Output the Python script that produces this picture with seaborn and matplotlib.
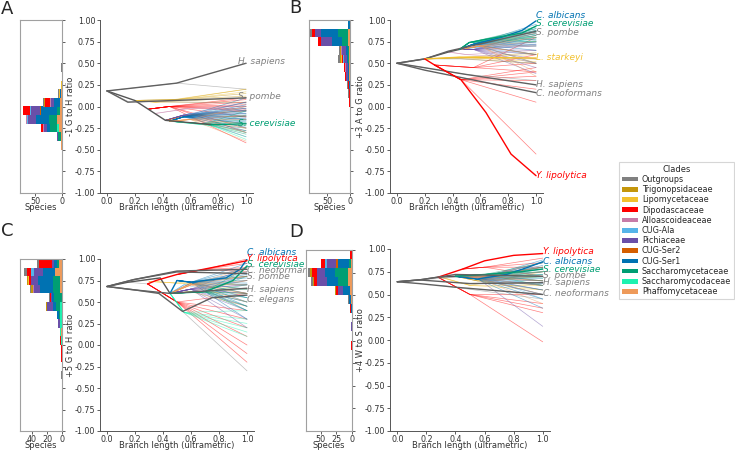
import numpy as np
import pandas as pd
import seaborn as sns
import matplotlib.pyplot as plt
from matplotlib.patches import Patch

clades = ["Outgroups", "Trigonopsidaceae", "Lipomycetaceae", "Dipodascaceae",
          "Alloascoideaceae", "CUG-Ala", "Pichiaceae", "CUG-Ser2", "CUG-Ser1",
          "Saccharomycetaceae", "Saccharomycodaceae", "Phaffomycetaceae"]
clade_colors = ["#808080", "#C4960C", "#F2C12E", "#FF0000", "#C77CA8", "#56B4E9",
                "#6A4FA8", "#D55E00", "#0072B2", "#009E73", "#1DF2B0", "#EE9A5A"]

# ---------------- panel A : -1 G to H ----------------
A_ylabel = "-1 G to H ratio"
A_hist_low = [0.4, 0.2, 0.1, 0.0, -0.1, -0.2, -0.3, -0.4, -0.5]
A_hist_counts = [
    [1, 0, 0, 0, 0, 0, 0, 0, 0, 0, 0, 0],
    [0, 1, 1, 0, 0, 0, 0, 0, 0, 0, 0, 0],
    [2, 1, 1, 1, 0, 0, 0, 0, 2, 0, 0, 1],
    [2, 1, 1, 8, 2, 1, 5, 0, 11, 1, 0, 3],
    [0, 1, 0, 12, 1, 1, 18, 1, 29, 6, 0, 4],
    [0, 0, 0, 0, 1, 1, 15, 0, 25, 15, 0, 9],
    [0, 0, 0, 4, 1, 0, 6, 0, 6, 12, 5, 5],
    [0, 0, 0, 0, 0, 0, 2, 0, 0, 5, 1, 1],
    [0, 0, 0, 0, 0, 0, 0, 0, 0, 0, 1, 1],
]
A_hist_max = 78
A_hist_ticks = [50, 0]
A_gray = [([0.0, 0.5, 1.0], [0.18, 0.27, 0.20]),
          ([0.0, 0.15, 1.0], [0.18, 0.06, 0.04])]
A_backbone = ([0.0, 0.2, 0.42, 0.55, 0.75], [0.18, 0.07, -0.16, -0.18, -0.21])
A_groups = [
    ("Trigonopsidaceae", 0.2, 0.07, 0.5, 0.08, [0.2, 0.15, 0.12]),
    ("Lipomycetaceae", 0.2, 0.07, 0.35, 0.05, [0.2, 0.17, 0.05, 0.1]),
    ("Dipodascaceae", 0.3, -0.03, 0.45, 0.0, [0.1, 0.05, 0.0, -0.03, -0.05, 0.02, -0.12, -0.25, -0.42, -0.3, 0.08]),
    ("Alloascoideaceae", 0.35, -0.08, 0.6, -0.02, [0.0, -0.05]),
    ("CUG-Ala", 0.42, -0.16, 0.6, -0.08, [-0.05, -0.1, -0.15]),
    ("Pichiaceae", 0.42, -0.16, 0.55, -0.1, [0.05, -0.02, -0.05, -0.08, -0.12, -0.15, -0.2, -0.28, -0.35]),
    ("CUG-Ser2", 0.42, -0.16, 0.6, -0.1, [-0.05, -0.12]),
    ("CUG-Ser1", 0.45, -0.17, 0.55, -0.12, [0.1, 0.05, 0.02, 0.0, -0.02, -0.04, -0.06, -0.08, -0.1, -0.12, -0.14, -0.16, -0.18, -0.2, -0.24, -0.3]),
    ("Saccharomycetaceae", 0.45, -0.17, 0.7, -0.2, [-0.05, -0.1, -0.15, -0.18, -0.22, -0.25, -0.28, -0.32]),
    ("Saccharomycodaceae", 0.45, -0.17, 0.75, -0.22, [-0.3, -0.35, -0.38]),
    ("Phaffomycetaceae", 0.45, -0.17, 0.6, -0.15, [0.0, -0.1, -0.15, -0.2, -0.25, -0.3, -0.4]),
]
A_species = [
    ("H. sapiens", "Outgroups", [0.0, 0.5, 1.0], [0.18, 0.27, 0.5], 0.52),
    ("S. pombe", "Outgroups", [0.0, 0.15, 1.0], [0.18, 0.05, 0.1], 0.11),
    ("S. cerevisiae", "Saccharomycetaceae", [0.75, 1.0], [-0.21, -0.2], -0.2),
]
A_label_x = 0.94

# ---------------- panel B : +3 A to G ----------------
B_ylabel = "+3 A to G ratio"
B_hist_low = [0.9, 0.8, 0.7, 0.6, 0.5, 0.4, 0.3, 0.2, 0.1, 0.0, -0.6, -0.9]
B_hist_counts = [
    [0, 0, 0, 0, 0, 0, 0, 0, 3, 1, 0, 0],
    [3, 0, 0, 6, 1, 0, 13, 1, 36, 22, 0, 4],
    [0, 0, 0, 7, 0, 0, 22, 0, 22, 14, 0, 4],
    [2, 1, 0, 1, 1, 0, 9, 0, 5, 1, 0, 3],
    [5, 2, 2, 3, 0, 1, 7, 0, 3, 1, 0, 3],
    [0, 0, 0, 3, 2, 0, 4, 0, 3, 0, 0, 2],
    [0, 0, 0, 3, 0, 0, 3, 0, 2, 1, 0, 2],
    [1, 0, 0, 3, 0, 0, 0, 0, 1, 0, 0, 1],
    [1, 0, 0, 2, 0, 0, 0, 0, 0, 0, 0, 1],
    [0, 0, 0, 2, 0, 0, 0, 1, 0, 0, 0, 0],
    [0, 0, 0, 1, 0, 0, 0, 0, 0, 0, 0, 0],
    [0, 0, 0, 1, 0, 0, 0, 0, 0, 0, 0, 0],
]
B_hist_max = 89
B_hist_ticks = [50, 0]
B_gray = [([0.0, 0.5, 1.0], [0.5, 0.37, 0.30]),
          ([0.2, 0.45, 1.0], [0.55, 0.55, 0.5])]
B_backbone = ([0.0, 0.2, 0.37, 0.45], [0.5, 0.55, 0.63, 0.66])
B_groups = [
    ("Trigonopsidaceae", 0.2, 0.55, 0.4, 0.56, [0.62, 0.55, 0.5]),
    ("Lipomycetaceae", 0.2, 0.55, 0.45, 0.57, [0.6, 0.52]),
    ("Dipodascaceae", 0.27, 0.48, 0.46, 0.31, [0.45, 0.4, 0.3, 0.2, 0.05, -0.55, 0.35]),
    ("Dipodascaceae", 0.27, 0.48, 0.55, 0.45, [0.8, 0.6, 0.5, 0.4]),
    ("Alloascoideaceae", 0.37, 0.63, 0.5, 0.6, [0.65, 0.55]),
    ("CUG-Ala", 0.45, 0.66, 0.55, 0.68, [0.75, 0.7, 0.6]),
    ("Pichiaceae", 0.45, 0.66, 0.55, 0.66, [0.85, 0.8, 0.75, 0.72, 0.7, 0.65, 0.6, 0.55, 0.5, 0.45, 0.38]),
    ("CUG-Ser2", 0.45, 0.66, 0.6, 0.7, [0.82, 0.6]),
    ("CUG-Ser1", 0.45, 0.66, 0.55, 0.72, [0.95, 0.9, 0.88, 0.86, 0.84, 0.82, 0.8, 0.78, 0.76, 0.74, 0.72, 0.7, 0.65, 0.6, 0.5]),
    ("Saccharomycetaceae", 0.45, 0.66, 0.52, 0.74, [0.92, 0.9, 0.88, 0.86, 0.84, 0.82, 0.8, 0.78, 0.75]),
    ("Saccharomycodaceae", 0.52, 0.74, 0.7, 0.78, [0.8, 0.75]),
    ("Phaffomycetaceae", 0.45, 0.66, 0.6, 0.7, [0.85, 0.8, 0.75, 0.7, 0.6, 0.5, 0.4, 0.35]),
]
B_species = [
    ("C. albicans", "CUG-Ser1", [0.45, 0.55, 0.75, 0.9, 1.0], [0.66, 0.72, 0.8, 0.88, 0.99], 1.05),
    ("S. cerevisiae", "Saccharomycetaceae", [0.45, 0.52, 0.65, 0.9, 1.0], [0.66, 0.74, 0.78, 0.85, 0.93], 0.96),
    ("S. pombe", "Outgroups", [0.0, 0.2, 0.37, 1.0], [0.5, 0.55, 0.64, 0.87], 0.86),
    ("L. starkeyi", "Lipomycetaceae", [0.2, 0.45, 1.0], [0.55, 0.57, 0.56], 0.57),
    ("H. sapiens", "Outgroups", [0.0, 0.5, 1.0], [0.5, 0.37, 0.25], 0.25),
    ("C. neoformans", "Outgroups", [0.0, 0.2, 1.0], [0.5, 0.42, 0.16], 0.15),
    ("Y. lipolytica", "Dipodascaceae", [0.2, 0.27, 0.46, 0.64, 0.82, 1.0], [0.55, 0.48, 0.31, -0.07, -0.55, -0.80], -0.80),
]
B_label_x = 1.0

# ---------------- panel C : +5 G to H ----------------
C_ylabel = "+5 G to H ratio"
C_hist_low = [0.9, 0.8, 0.7, 0.6, 0.5, 0.4, 0.3, 0.2, 0.1, 0.0, -0.1, -0.2, -0.4]
C_hist_counts = [
    [2, 0, 0, 17, 0, 0, 3, 0, 5, 2, 0, 4],
    [4, 0, 0, 5, 0, 4, 13, 0, 16, 0, 0, 9],
    [0, 2, 1, 3, 0, 0, 9, 0, 20, 9, 0, 3],
    [2, 2, 0, 0, 1, 0, 8, 0, 18, 10, 0, 2],
    [1, 0, 0, 1, 0, 0, 2, 0, 2, 11, 0, 0],
    [0, 1, 0, 0, 0, 0, 8, 0, 4, 6, 2, 0],
    [0, 0, 0, 0, 0, 0, 0, 0, 2, 2, 2, 0],
    [0, 0, 0, 0, 0, 0, 2, 0, 1, 0, 2, 0],
    [0, 0, 0, 1, 0, 0, 0, 0, 0, 0, 1, 1],
    [0, 0, 0, 1, 0, 0, 0, 0, 0, 0, 1, 0],
    [0, 0, 0, 1, 0, 0, 0, 0, 0, 0, 0, 0],
    [0, 0, 0, 1, 0, 0, 0, 0, 0, 0, 0, 0],
    [1, 0, 0, 0, 0, 0, 0, 0, 0, 0, 0, 0],
]
C_hist_max = 56
C_hist_ticks = [40, 20, 0]
C_gray = [([0.54, 1.0], [0.39, -0.3]),
          ([0.15, 0.29], [0.73, 0.71])]
C_backbone = ([0.0, 0.15, 0.38, 0.45], [0.68, 0.73, 0.78, 0.6])
C_groups = [
    ("Trigonopsidaceae", 0.45, 0.6, 0.6, 0.62, [0.75, 0.6, 0.45]),
    ("Lipomycetaceae", 0.3, 0.74, 0.5, 0.72, [0.8, 0.7, 0.65]),
    ("Dipodascaceae", 0.29, 0.71, 0.5, 0.5, [0.6, 0.4, 0.2, 0.1, 0.0, -0.1, -0.2, 0.3]),
    ("Dipodascaceae", 0.5, 0.82, 0.7, 0.88, [1.0, 0.95, 0.9, 0.85]),
    ("Alloascoideaceae", 0.45, 0.6, 0.6, 0.65, [0.7, 0.6]),
    ("CUG-Ala", 0.45, 0.6, 0.55, 0.7, [0.85, 0.7, 0.55]),
    ("Pichiaceae", 0.45, 0.6, 0.6, 0.65, [0.9, 0.8, 0.75, 0.7, 0.6, 0.5, 0.45, 0.4, 0.3, 0.2]),
    ("CUG-Ser2", 0.45, 0.6, 0.6, 0.72, [0.8, 0.6]),
    ("CUG-Ser1", 0.5, 0.75, 0.6, 0.73, [0.95, 0.9, 0.85, 0.82, 0.8, 0.78, 0.75, 0.72, 0.7, 0.65, 0.6, 0.55, 0.5, 0.45, 0.4, 0.3]),
    ("Saccharomycetaceae", 0.45, 0.6, 0.7, 0.62, [0.9, 0.8, 0.7, 0.65, 0.6, 0.55, 0.5, 0.45, 0.4]),
    ("Saccharomycodaceae", 0.45, 0.6, 0.55, 0.38, [0.4, 0.3, 0.25, 0.2, 0.15, 0.1]),
    ("Phaffomycetaceae", 0.45, 0.6, 0.6, 0.7, [0.9, 0.85, 0.8, 0.75, 0.7, 0.6, 0.5]),
]
C_species = [
    ("C. albicans", "CUG-Ser1", [0.45, 0.5, 0.6, 0.85, 0.95, 1.0], [0.6, 0.75, 0.73, 0.78, 0.88, 1.0], 1.08),
    ("Y. lipolytica", "Dipodascaceae", [0.29, 0.35, 0.5, 0.75, 1.0], [0.71, 0.75, 0.82, 0.9, 0.98], 1.01),
    ("S. cerevisiae", "Saccharomycetaceae", [0.45, 0.7, 0.9, 1.0], [0.6, 0.62, 0.75, 0.92], 0.94),
    ("C. neoformans", "Outgroups", [0.0, 0.19, 0.5, 1.0], [0.68, 0.76, 0.86, 0.88], 0.87),
    ("S. pombe", "Outgroups", [0.0, 0.19, 0.5, 1.0], [0.68, 0.76, 0.85, 0.83], 0.80),
    ("H. sapiens", "Outgroups", [0.0, 0.2, 0.45, 1.0], [0.68, 0.64, 0.6, 0.66], 0.64),
    ("C. elegans", "Outgroups", [0.0, 0.2, 0.37, 0.54, 0.75, 1.0], [0.68, 0.64, 0.6, 0.39, 0.55, 0.58], 0.53),
]
C_label_x = 1.0

# ---------------- panel D : +4 W to S ----------------
D_ylabel = "+4 W to S ratio"
D_hist_low = [0.9, 0.8, 0.7, 0.6, 0.5, 0.4, 0.3, 0.1, -0.1]
D_hist_counts = [
    [0, 0, 0, 3, 0, 0, 0, 0, 0, 0, 0, 0],
    [0, 0, 0, 7, 0, 3, 15, 2, 18, 3, 0, 2],
    [3, 2, 0, 8, 0, 0, 13, 0, 16, 21, 0, 7],
    [3, 2, 0, 5, 0, 0, 15, 0, 18, 17, 0, 6],
    [0, 2, 1, 2, 0, 0, 9, 0, 11, 0, 0, 3],
    [1, 0, 0, 0, 0, 0, 0, 0, 3, 0, 0, 2],
    [0, 0, 0, 2, 0, 0, 0, 0, 1, 0, 0, 0],
    [0, 0, 0, 0, 0, 0, 1, 0, 0, 0, 0, 0],
    [0, 0, 0, 1, 0, 0, 0, 0, 0, 0, 0, 0],
]
D_hist_max = 74
D_hist_ticks = [50, 25, 0]
D_gray = [([0.15, 0.5, 1.0], [0.66, 0.7, 0.75]),
          ([0.3, 1.0], [0.6, 0.45])]
D_backbone = ([0.0, 0.15, 0.28, 0.4], [0.64, 0.66, 0.69, 0.7])
D_groups = [
    ("Trigonopsidaceae", 0.4, 0.7, 0.55, 0.65, [0.7, 0.6, 0.55]),
    ("Lipomycetaceae", 0.3, 0.69, 0.5, 0.6, [0.75, 0.6, 0.55]),
    ("Dipodascaceae", 0.28, 0.69, 0.5, 0.5, [0.5, 0.4, 0.35, 0.3, -0.02]),
    ("Dipodascaceae", 0.45, 0.78, 0.6, 0.8, [0.9, 0.85, 0.8, 0.7]),
    ("Alloascoideaceae", 0.4, 0.7, 0.6, 0.72, [0.8, 0.65]),
    ("CUG-Ala", 0.4, 0.7, 0.6, 0.7, [0.85, 0.6, 0.45]),
    ("Pichiaceae", 0.4, 0.7, 0.55, 0.68, [0.85, 0.8, 0.75, 0.7, 0.65, 0.6, 0.55, 0.5, 0.15]),
    ("CUG-Ser2", 0.4, 0.7, 0.6, 0.7, [0.8, 0.65]),
    ("CUG-Ser1", 0.4, 0.7, 0.55, 0.67, [0.88, 0.85, 0.82, 0.8, 0.78, 0.75, 0.72, 0.7, 0.68, 0.65, 0.62, 0.6, 0.55, 0.5, 0.45, 0.35]),
    ("Saccharomycetaceae", 0.4, 0.7, 0.6, 0.72, [0.85, 0.8, 0.78, 0.75, 0.72, 0.7, 0.68, 0.65, 0.6]),
    ("Saccharomycodaceae", 0.6, 0.72, 0.7, 0.72, [0.75, 0.7]),
    ("Phaffomycetaceae", 0.4, 0.7, 0.55, 0.68, [0.85, 0.8, 0.75, 0.7, 0.65, 0.6, 0.5, 0.4]),
]
D_species = [
    ("Y. lipolytica", "Dipodascaceae", [0.28, 0.45, 0.6, 0.8, 1.0], [0.69, 0.78, 0.87, 0.93, 0.95], 0.97),
    ("C. albicans", "CUG-Ser1", [0.4, 0.55, 0.75, 0.9, 1.0], [0.7, 0.67, 0.72, 0.8, 0.86], 0.86),
    ("S. cerevisiae", "Saccharomycetaceae", [0.4, 0.6, 0.85, 1.0], [0.7, 0.72, 0.75, 0.78], 0.78),
    ("S. pombe", "Outgroups", [0.0, 0.15, 0.4, 1.0], [0.64, 0.66, 0.72, 0.7], 0.71),
    ("H. sapiens", "Outgroups", [0.0, 0.15, 0.5, 1.0], [0.64, 0.66, 0.62, 0.63], 0.63),
    ("C. neoformans", "Outgroups", [0.0, 0.15, 0.4, 1.0], [0.64, 0.62, 0.58, 0.5], 0.51),
]
D_label_x = 1.0

# ---------------------------------------------------------------
sns.set_style("ticks")
plt.rcParams.update({"font.family": ["DejaVu Sans"], "xtick.labelsize": 5.8,
                     "ytick.labelsize": 5.8, "axes.labelsize": 6.0,
                     "xtick.major.size": 2.2, "ytick.major.size": 2.2,
                     "xtick.major.pad": 1.0, "ytick.major.pad": 1.2,
                     "xtick.major.width": 0.6, "ytick.major.width": 0.6,
                     "xtick.color": "#444444", "ytick.color": "#444444",
                     "xtick.labelcolor": "#333333", "ytick.labelcolor": "#333333",
                     "axes.labelcolor": "#333333", "axes.linewidth": 0.7,
                     "axes.edgecolor": "#555555"})

palette = dict(zip(clades, clade_colors))
strong = dict(palette)
strong["Outgroups"] = "#606060"
strong["Backbone"] = "#555555"
label_colors = dict(palette)
label_colors["Outgroups"] = "#808080"


def thin_frame(groups, gray):
    rows = []
    uid = 0
    for clade, x0, y0, x1, y1, tips in groups:
        for t in tips:
            for x, y in zip([x0, x1, 1.0], [y0, y1, t]):
                rows.append((uid, clade, x, y))
            uid += 1
    for xs, ys in gray:
        for x, y in zip(xs, ys):
            rows.append((uid, "Outgroups", x, y))
        uid += 1
    return pd.DataFrame(rows, columns=["path", "clade", "x", "y"])


def strong_frame(backbone, species):
    rows = [(0, "Backbone", x, y) for x, y in zip(*backbone)]
    for i, (name, clade, xs, ys, ly) in enumerate(species, start=1):
        rows += [(i, clade, x, y) for x, y in zip(xs, ys)]
    return pd.DataFrame(rows, columns=["path", "clade", "x", "y"])


def draw_hist(axh, lows, counts):
    # stacked horizontal bars; last clade sits next to zero
    counts = np.array(counts, dtype=float)
    left = np.zeros(len(lows))
    for j in range(len(clades) - 1, -1, -1):
        axh.barh(lows, counts[:, j], height=0.1, left=left, align="edge",
                 color=clade_colors[j], linewidth=0)
        left += counts[:, j]


def draw_panel(axh, ax, ylabel, lows, counts, hmax, hticks,
               gray, backbone, groups, species, label_x):
    draw_hist(axh, lows, counts)
    axh.set_xlim(hmax, 0)
    axh.set_ylim(-1, 1)
    axh.set_xticks(hticks)
    axh.yaxis.tick_right()
    axh.set_yticks(np.arange(-1, 1.01, 0.25))
    axh.set_yticklabels([])
    axh.set_xlabel("Species", labelpad=-2.3)
    for s in axh.spines.values():
        s.set_visible(True)
        s.set_color("#a0a0a0")
        s.set_linewidth(0.8)

    sns.lineplot(data=thin_frame(groups, gray), x="x", y="y", units="path",
                 hue="clade", palette=palette, estimator=None, sort=False,
                 lw=0.5, alpha=0.5, legend=False, ax=ax)
    sns.lineplot(data=strong_frame(backbone, species), x="x", y="y", units="path",
                 hue="clade", palette=strong, estimator=None, sort=False,
                 lw=1.0, legend=False, ax=ax)
    for name, clade, xs, ys, ly in species:
        ax.text(label_x, ly, name, color=label_colors[clade], style="italic",
                fontsize=6.5, va="center", ha="left", clip_on=False)
    ax.set_xlim(-0.05, 1.05)
    ax.set_ylim(-1, 1)
    ax.set_xticks(np.arange(0, 1.01, 0.2))
    ax.set_yticks(np.arange(-1, 1.01, 0.25))
    ax.xaxis.set_major_formatter(plt.FormatStrFormatter("%.1f"))
    ax.yaxis.set_major_formatter(plt.FormatStrFormatter("%.2f"))
    ax.set_xlabel("Branch length (ultrametric)", labelpad=-2.3)
    ax.set_ylabel(ylabel, labelpad=0)
    sns.despine(ax=ax)


W, H = 735, 451
fig = plt.figure(figsize=(7.35, 4.51), dpi=100)


def box(x0, y0, x1, y1):
    return [x0 / W, 1 - y1 / H, (x1 - x0) / W, (y1 - y0) / H]


panels = [
    (box(20, 20, 62, 193), box(100, 20, 253, 193), A_ylabel, A_hist_low, A_hist_counts,
     A_hist_max, A_hist_ticks, A_gray, A_backbone, A_groups, A_species, A_label_x),
    (box(309, 20, 350, 193), box(390, 20, 543, 193), B_ylabel, B_hist_low, B_hist_counts,
     B_hist_max, B_hist_ticks, B_gray, B_backbone, B_groups, B_species, B_label_x),
    (box(20, 259, 62, 431), box(100, 259, 254, 431), C_ylabel, C_hist_low, C_hist_counts,
     C_hist_max, C_hist_ticks, C_gray, C_backbone, C_groups, C_species, C_label_x),
    (box(306, 250, 352, 431), box(390, 249, 550, 431), D_ylabel, D_hist_low, D_hist_counts,
     D_hist_max, D_hist_ticks, D_gray, D_backbone, D_groups, D_species, D_label_x),
]
for hpos, lpos, *args in panels:
    axh = fig.add_axes(hpos)
    ax = fig.add_axes(lpos)
    draw_panel(axh, ax, *args)

for letter, (x, y) in zip("ABCD", [(1, 9), (289, 8), (1, 231), (289, 232)]):
    fig.text(x / W, 1 - y / H, letter, fontsize=13, ha="left", va="center")

handles = [Patch(facecolor=c, edgecolor="none") for c in clade_colors]
leg = fig.legend(handles, clades, title="Clades", loc="upper left",
                 bbox_to_anchor=(619 / W, 1 - 162 / H), fontsize=5.8,
                 title_fontsize=6.0, handlelength=2.0, handleheight=0.5,
                 labelspacing=0.15, borderpad=0.35, handletextpad=0.5,
                 borderaxespad=0, frameon=True, fancybox=False)
leg.get_frame().set_edgecolor("#cccccc")
leg.get_frame().set_linewidth(0.8)

fig.savefig("out.png", dpi=100)
